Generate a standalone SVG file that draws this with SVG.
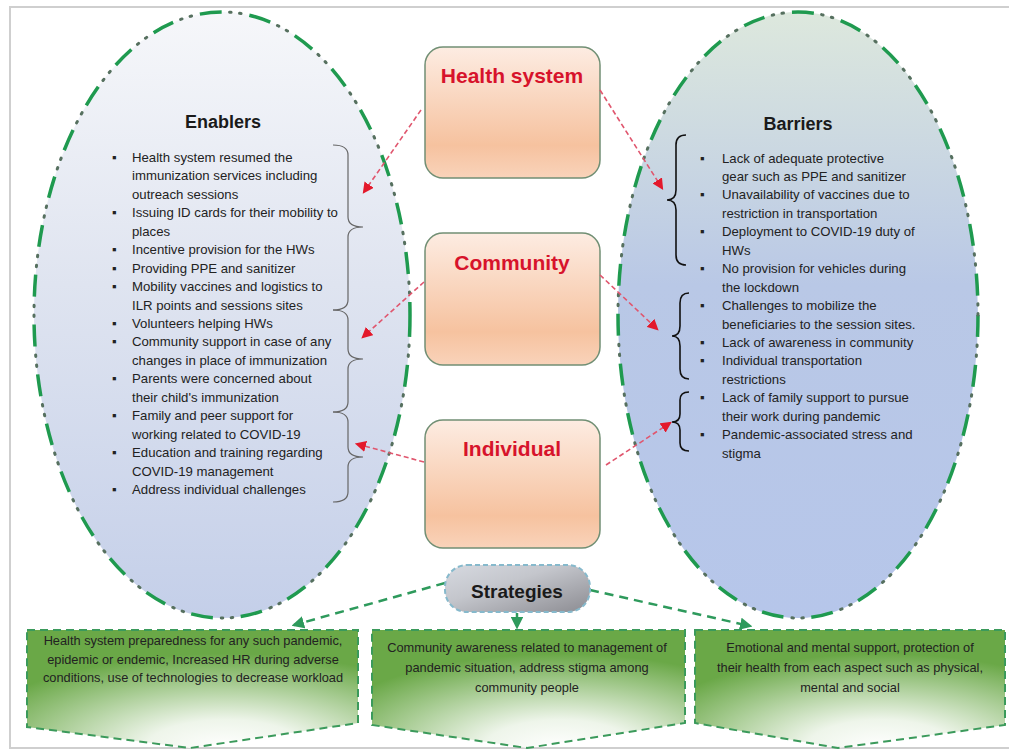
<svg xmlns="http://www.w3.org/2000/svg" width="1009" height="755" viewBox="0 0 1009 755">
  <defs>
    <linearGradient id="gEnab" x1="0" y1="0" x2="0" y2="1">
      <stop offset="0" stop-color="#f6f7fa"/>
      <stop offset="0.45" stop-color="#dfe4f0"/>
      <stop offset="1" stop-color="#c4cfe9"/>
    </linearGradient>
    <linearGradient id="gBarr" x1="0" y1="0" x2="0" y2="1">
      <stop offset="0" stop-color="#dde8dd"/>
      <stop offset="0.45" stop-color="#b9c8e6"/>
      <stop offset="1" stop-color="#b6c6ea"/>
    </linearGradient>
    <linearGradient id="gBox" x1="0" y1="0" x2="0" y2="1">
      <stop offset="0" stop-color="#fdece2"/>
      <stop offset="0.75" stop-color="#f6c29f"/>
      <stop offset="1" stop-color="#f9d3ba"/>
    </linearGradient>
    <linearGradient id="gStrat" x1="0" y1="0" x2="1" y2="1">
      <stop offset="0" stop-color="#d6d9e0"/>
      <stop offset="0.4" stop-color="#c4c6cc"/>
      <stop offset="1" stop-color="#8c8c92"/>
    </linearGradient>
    <radialGradient id="gGreen" cx="0.6" cy="1" r="0.8">
      <stop offset="0" stop-color="#ffffff"/>
      <stop offset="0.3" stop-color="#eef5ea"/>
      <stop offset="1" stop-color="#6aa847"/>
    </radialGradient>
    <marker id="arRed" viewBox="0 0 10 10" refX="8" refY="5" markerWidth="7" markerHeight="7" orient="auto">
      <path d="M0,0 L10,5 L0,10 Z" fill="#e3192b"/>
    </marker>
    <marker id="arGreen" viewBox="0 0 10 10" refX="8" refY="5" markerWidth="5" markerHeight="5" orient="auto">
      <path d="M0,0 L10,5 L0,10 Z" fill="#2e9a5c"/>
    </marker>
  </defs>
  <style>
    .frame { fill: #ffffff; stroke: #cfcfcf; stroke-width: 2; }
    .ovalDash { fill: none; stroke: #1f9a4f; stroke-width: 3.5; stroke-dasharray: 22 28; }
    .ovalDot { fill: none; stroke: #56705f; stroke-width: 3; stroke-dasharray: 1.5 8.5 1.5 38.5; stroke-dashoffset: 20; stroke-linecap: round; }
    .box { fill: url(#gBox); stroke: #718f74; stroke-width: 1.5; }
    .boxTitle { font-family: "Liberation Sans", Arial, sans-serif; font-weight: bold; font-size: 21px; fill: #d7132b; text-anchor: middle; }
    .head { font-family: "Liberation Sans", Arial, sans-serif; font-weight: bold; font-size: 18px; fill: #1a1a1a; text-anchor: middle; }
    .item { font-family: "Liberation Sans", Arial, sans-serif; font-size: 13.2px; fill: #222222; }
    .strat { font-family: "Liberation Sans", Arial, sans-serif; font-size: 12.8px; fill: #222222; text-anchor: middle; }
    .braceE { fill: none; stroke: #666666; stroke-width: 1.2; }
    .braceB { fill: none; stroke: #111111; stroke-width: 1.6; }
    .link { fill: none; stroke: #e0566e; stroke-width: 1.6; stroke-dasharray: 5 3; marker-end: url(#arRed); }
    .slink { fill: none; stroke: #2e9a5c; stroke-width: 2.5; stroke-dasharray: 9 6; marker-end: url(#arGreen); }
    .sbox { fill: url(#gGreen); stroke: #3b9a5b; stroke-width: 2; stroke-dasharray: 8 5; }
  </style>

  <!-- outer frame -->
  <rect class="frame" x="10" y="7" width="1005" height="741"/>

  <!-- Enablers oval -->
  <g id="enablers">
    <ellipse cx="222" cy="315" rx="188" ry="303" fill="url(#gEnab)"/>
    <ellipse class="ovalDash" cx="222" cy="315" rx="188" ry="303"/>
    <ellipse class="ovalDot" cx="222" cy="315" rx="188" ry="303"/>
    <text class="head" x="223" y="128">Enablers</text>
    <g class="item">
      <text x="112" y="162">▪</text><text x="132" y="162">Health system resumed the</text>
      <text x="132" y="180.4">immunization services including</text>
      <text x="132" y="198.9">outreach sessions</text>
      <text x="112" y="217.3">▪</text><text x="132" y="217.3">Issuing ID cards for their mobility to</text>
      <text x="132" y="235.8">places</text>
      <text x="112" y="254.2">▪</text><text x="132" y="254.2">Incentive provision for the HWs</text>
      <text x="112" y="272.6">▪</text><text x="132" y="272.6">Providing PPE and sanitizer</text>
      <text x="112" y="291.1">▪</text><text x="132" y="291.1">Mobility vaccines and logistics to</text>
      <text x="132" y="309.5">ILR points and sessions sites</text>
      <text x="112" y="328">▪</text><text x="132" y="328">Volunteers helping HWs</text>
      <text x="112" y="346.4">▪</text><text x="132" y="346.4">Community support in case of any</text>
      <text x="132" y="364.8">changes in place of immunization</text>
      <text x="112" y="383.3">▪</text><text x="132" y="383.3">Parents were concerned about</text>
      <text x="132" y="401.7">their child's immunization</text>
      <text x="112" y="420.2">▪</text><text x="132" y="420.2">Family and peer support for</text>
      <text x="132" y="438.6">working related to COVID-19</text>
      <text x="112" y="457">▪</text><text x="132" y="457">Education and training regarding</text>
      <text x="132" y="475.5">COVID-19 management</text>
      <text x="112" y="493.9">▪</text><text x="132" y="493.9">Address individual challenges</text>
    </g>
    <path class="braceE" d="M333,145 Q348,145 348,155 L348,217 Q348,227 363,227 Q348,227 348,237 L348,300 Q348,310 333,310"/>
    <path class="braceE" d="M333,310 Q348,310 348,320 L348,349 Q348,359 363,359 Q348,359 348,369 L348,402 Q348,412 333,412"/>
    <path class="braceE" d="M333,412 Q348,412 348,422 L348,447 Q348,457 363,457 Q348,457 348,467 L348,492 Q348,502 333,502"/>
  </g>

  <!-- Barriers oval -->
  <g id="barriers">
    <ellipse cx="798" cy="315" rx="180" ry="303" fill="url(#gBarr)"/>
    <ellipse class="ovalDash" cx="798" cy="315" rx="180" ry="303"/>
    <ellipse class="ovalDot" cx="798" cy="315" rx="180" ry="303"/>
    <text class="head" x="798" y="130">Barriers</text>
    <g class="item">
      <text x="700" y="162.5">▪</text><text x="722" y="162.5">Lack of adequate protective</text>
      <text x="722" y="180.9">gear such as PPE and sanitizer</text>
      <text x="700" y="199.4">▪</text><text x="722" y="199.4">Unavailability of vaccines due to</text>
      <text x="722" y="217.8">restriction in transportation</text>
      <text x="700" y="236.3">▪</text><text x="722" y="236.3">Deployment to COVID-19 duty of</text>
      <text x="722" y="254.7">HWs</text>
      <text x="700" y="273.1">▪</text><text x="722" y="273.1">No provision for vehicles during</text>
      <text x="722" y="291.6">the lockdown</text>
      <text x="700" y="310">▪</text><text x="722" y="310">Challenges to mobilize the</text>
      <text x="722" y="328.5">beneficiaries to the session sites.</text>
      <text x="700" y="346.9">▪</text><text x="722" y="346.9">Lack of awareness in community</text>
      <text x="700" y="365.3">▪</text><text x="722" y="365.3">Individual transportation</text>
      <text x="722" y="383.8">restrictions</text>
      <text x="700" y="402.2">▪</text><text x="722" y="402.2">Lack of family support to pursue</text>
      <text x="722" y="420.7">their work during pandemic</text>
      <text x="700" y="439.1">▪</text><text x="722" y="439.1">Pandemic-associated stress and</text>
      <text x="722" y="457.5">stigma</text>
    </g>
    <path class="braceB" d="M686,135 Q676,135 676,145 L676,190 Q676,200 667,200 Q676,200 676,210 L676,255 Q676,265 686,265"/>
    <path class="braceB" d="M689,293 Q680,293 680,303 L680,326 Q680,336 672,336 Q680,336 680,346 L680,369 Q680,379 689,379"/>
    <path class="braceB" d="M689,392 Q680,392 680,400 L680,414 Q680,422 672,422 Q680,422 680,430 L680,443 Q680,451 689,451"/>
  </g>

  <!-- level boxes -->
  <g id="health-system">
    <rect class="box" x="425" y="47" width="175" height="131" rx="18"/>
    <text class="boxTitle" x="512" y="83">Health system</text>
  </g>
  <g id="community">
    <rect class="box" x="425" y="233" width="175" height="132" rx="18"/>
    <text class="boxTitle" x="512" y="270">Community</text>
  </g>
  <g id="individual">
    <rect class="box" x="425" y="420" width="175" height="128" rx="18"/>
    <text class="boxTitle" x="512" y="456">Individual</text>
  </g>

  <!-- strategy boxes -->
  <g id="strategy-health">
    <path class="sbox" d="M27,630 L358,630 L358,723 L190,748 L27,727 Z"/>
    <text class="strat" x="193" y="645">Health system preparedness for any such pandemic,</text>
    <text class="strat" x="193" y="663.5">epidemic or endemic, Increased HR during adverse</text>
    <text class="strat" x="193" y="682">conditions, use of technologies to decrease workload</text>
  </g>
  <g id="strategy-community">
    <path class="sbox" d="M372,630 L685,630 L685,723 L527,748 L372,725 Z"/>
    <text class="strat" x="527" y="651.5">Community awareness related to management of</text>
    <text class="strat" x="527" y="671.5">pandemic situation, address stigma among</text>
    <text class="strat" x="527" y="691.5">community people</text>
  </g>
  <g id="strategy-individual">
    <path class="sbox" d="M695,630 L1005,630 L1005,725 L838,748 L695,723 Z"/>
    <text class="strat" x="850" y="651.5">Emotional and mental support, protection of</text>
    <text class="strat" x="850" y="671.5">their health from each aspect such as physical,</text>
    <text class="strat" x="850" y="691.5">mental and social</text>
  </g>

  <!-- connectors -->
  <g id="connectors">
    <path class="link" d="M421,110 L364,192"/>
    <path class="link" d="M600,90 L662,188"/>
    <path class="link" d="M424,282 L363,337"/>
    <path class="link" d="M600,275 L657,329"/>
    <path class="link" d="M424,462 L357,444"/>
    <path class="link" d="M606,465 L670,423"/>
    <path class="slink" d="M445,583 L294,625"/>
    <path class="slink" d="M517,613 L517,627"/>
    <path class="slink" d="M590,590 L750,626"/>
  </g>

  <!-- Strategies hub -->
  <g id="strategies">
    <rect x="445" y="565" width="145" height="47" rx="22" fill="url(#gStrat)" stroke="#86b9cc" stroke-width="2" stroke-dasharray="5 3"/>
    <text class="head" x="517" y="598" style="font-size:19px">Strategies</text>
  </g>
</svg>
